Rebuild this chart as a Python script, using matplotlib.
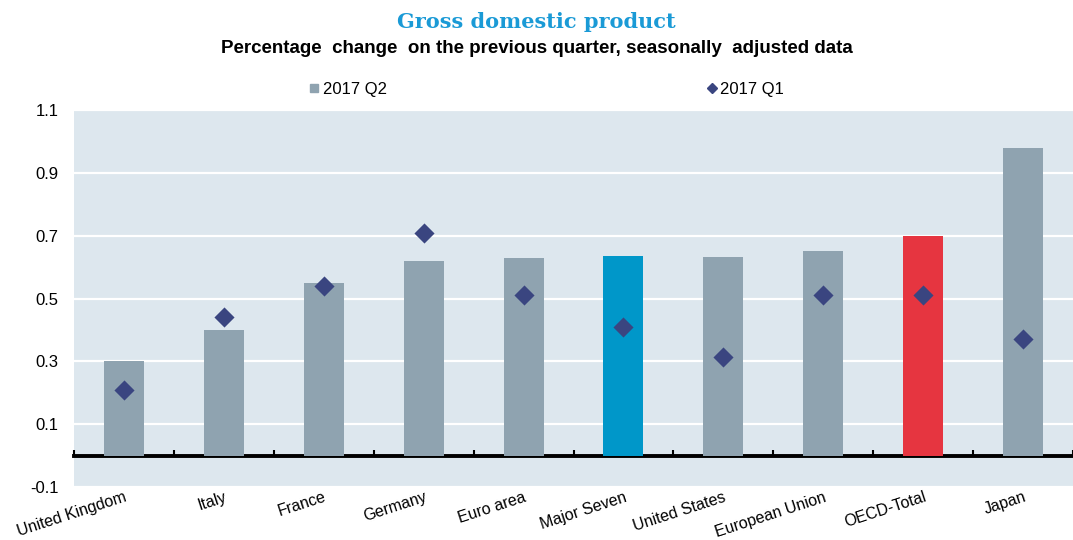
import numpy as np
import matplotlib.pyplot as plt
from matplotlib.lines import Line2D

countries = ["United Kingdom", "Italy", "France", "Germany", "Euro area",
             "Major Seven", "United States", "European Union", "OECD-Total", "Japan"]
q2_2017 = [0.30, 0.40, 0.55, 0.62, 0.63, 0.635, 0.633, 0.65, 0.70, 0.98]
q1_2017 = [0.21, 0.44, 0.54, 0.71, 0.51, 0.41, 0.315, 0.51, 0.51, 0.37]

grey = "#8fa3b0"
bar_colors = [grey] * len(countries)
bar_colors[countries.index("Major Seven")] = "#0097c9"
bar_colors[countries.index("OECD-Total")] = "#e63540"
diamond = "#3a4580"

plt.rcParams['font.family'] = ['Liberation Sans', 'DejaVu Sans']

fig = plt.figure(figsize=(10.73, 5.4), dpi=100)
ax = fig.add_axes([0.069, 0.096, 0.931, 0.70])
ax.set_facecolor("#dde7ee")

x = np.arange(len(countries))
ax.bar(x, q2_2017, width=0.4, color=bar_colors, zorder=2)
ax.scatter(x, q1_2017, marker="D", s=105, color=diamond, zorder=3, linewidths=0)

ymin, ymax = -0.104, 1.1
ax.set_ylim(ymin, ymax)
ax.set_xlim(-0.5, len(countries) - 0.5)
yt = np.arange(-0.1, 1.11, 0.2)
ax.set_yticks(yt)
ax.set_yticklabels([f"{v:.1f}" for v in yt])
ax.grid(axis="y", color="white", lw=1.6, zorder=1)
ax.set_axisbelow(True)
ax.tick_params(axis="y", length=0, labelsize=12, pad=11)
for s in ax.spines.values():
    s.set_visible(False)

ax.set_xticks(x)
ax.set_xticklabels(countries, rotation=18, ha="right", rotation_mode="anchor", fontsize=11.5)
ax.tick_params(axis="x", length=0, pad=1)

# zero line with category boundary ticks
zero_pos = (0 - ymin) / (ymax - ymin)
sec = ax.secondary_xaxis(zero_pos)
sec.set_xticks(np.arange(-0.5, len(countries), 1.0))
sec.tick_params(axis="x", direction="in", length=4, width=1.5, labelbottom=False,
                labeltop=False, color="black")
sec.spines["bottom"].set_linewidth(2.8)
for k in ("top", "left", "right"):
    sec.spines[k].set_visible(False)

fig.text(0.5, 0.96, "Gross domestic product", ha="center", va="center",
         fontsize=15, fontweight="bold", color="#1a9ad6", family="DejaVu Serif")
fig.text(0.5, 0.91, "Percentage  change  on the previous quarter, seasonally  adjusted data",
         ha="center", va="center", fontsize=13.5, fontweight="bold")

handles = [Line2D([], [], marker="s", ls="", color=grey, markersize=6),
           Line2D([], [], marker="D", ls="", color=diamond, markersize=5)]
fig.legend(handles, ["2017 Q2", "2017 Q1"], loc="center", bbox_to_anchor=(0.508, 0.834),
           ncol=2, frameon=False, fontsize=12, columnspacing=19, handletextpad=0.0,
           handlelength=1.0)

fig.savefig("out.png", dpi=100)
